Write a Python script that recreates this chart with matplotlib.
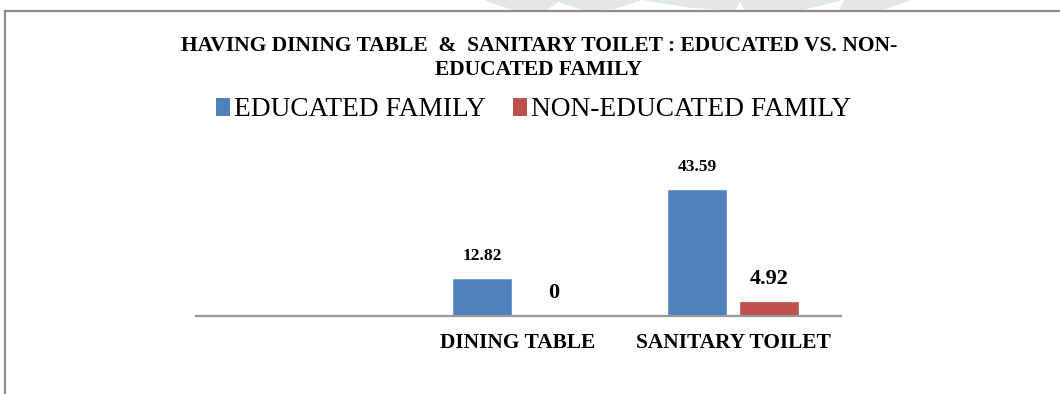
import numpy as np
import matplotlib.pyplot as plt
from matplotlib.patches import Patch, Polygon
from matplotlib.lines import Line2D

# survey results (% of families)
categories = ['', 'DINING TABLE', 'SANITARY TOILET']
educated = [np.nan, 12.82, 43.59]
non_educated = [np.nan, 0, 4.92]
series_names = ['EDUCATED FAMILY', 'NON-EDUCATED FAMILY']

blue = '#4f81bd'
red = '#c0504d'

plt.rcParams['font.family'] = ['Liberation Serif', 'DejaVu Serif']

fig = plt.figure(figsize=(10.6, 3.94), dpi=100)
W, H = 1060, 394

# faint watermark shapes peeking in above the frame
wm = '#e2e7ea'
for pts in [[(485, 0), (560, 0), (545, 10), (515, 10)],
            [(555, 0), (640, 0), (615, 8), (585, 10)],
            [(645, 0), (740, 0), (735, 10), (690, 7)],
            [(740, 0), (840, 0), (800, 10), (745, 10)],
            [(845, 0), (910, 0), (880, 10), (840, 10)]]:
    fig.patches.append(Polygon([(x / W, 1 - y / H) for x, y in pts], closed=True,
                               transform=fig.transFigure, color=wm, zorder=0))

# chart frame (top and left edges)
fig.add_artist(Line2D([5 / W, 1], [1 - 11 / H, 1 - 11 / H], color='#8c8c8c', lw=1.6,
                      transform=fig.transFigure))
fig.add_artist(Line2D([5 / W, 5 / W], [0, 1 - 11 / H], color='#8c8c8c', lw=1.6,
                      transform=fig.transFigure))

ax = fig.add_axes([195.5 / W, 78 / H, 645 / W, 166 / H])
x = np.arange(len(categories))
bw = 0.27
gap = 0.065
off = (bw + gap) / 2
b1 = ax.bar(x - off, educated, bw, color=blue, edgecolor='#6a97cc', linewidth=0.6)
b2 = ax.bar(x + off, non_educated, bw, color=red, edgecolor='#c8605d', linewidth=0.6)

ax.set_xlim(-0.5, len(categories) - 0.5)
ax.set_ylim(0, 166 / 2.89)

for rect, v in zip(b1, educated):
    if np.isnan(v):
        continue
    ax.annotate(f'{v:g}', (rect.get_x() + rect.get_width() / 2, v),
                xytext=(0, 11), textcoords='offset points', ha='center', va='bottom',
                fontsize=12.5, fontweight='bold')
for rect, v in zip(b2, non_educated):
    if np.isnan(v):
        continue
    ax.annotate(f'{v:g}', (rect.get_x() + rect.get_width() / 2, v),
                xytext=(0, 9), textcoords='offset points', ha='center', va='bottom',
                fontsize=16, fontweight='bold')

ax.set_xticks(x)
ax.set_xticklabels(categories, fontsize=15.4, fontweight='bold')
ax.tick_params(axis='x', length=0, pad=12)
ax.set_yticks([])
for s in ['top', 'right', 'left']:
    ax.spines[s].set_visible(False)
ax.spines['bottom'].set_color('#999999')
ax.spines['bottom'].set_linewidth(1.6)

fig.text(539 / W, 1 - 58 / H,
         'HAVING DINING TABLE  &  SANITARY TOILET : EDUCATED VS. NON-\nEDUCATED FAMILY',
         ha='center', va='center', fontsize=15.5, fontweight='bold', linespacing=1.3)

handles = [Patch(facecolor=blue, label=series_names[0]),
           Patch(facecolor=red, label=series_names[1])]
fig.legend(handles=handles, loc='center', bbox_to_anchor=(534 / W, 1 - 110 / H),
           ncol=2, frameon=False, fontsize=19.7, handlelength=0.5, handleheight=0.65,
           handletextpad=0.15, columnspacing=1.0)

fig.savefig('out.png', dpi=100)
